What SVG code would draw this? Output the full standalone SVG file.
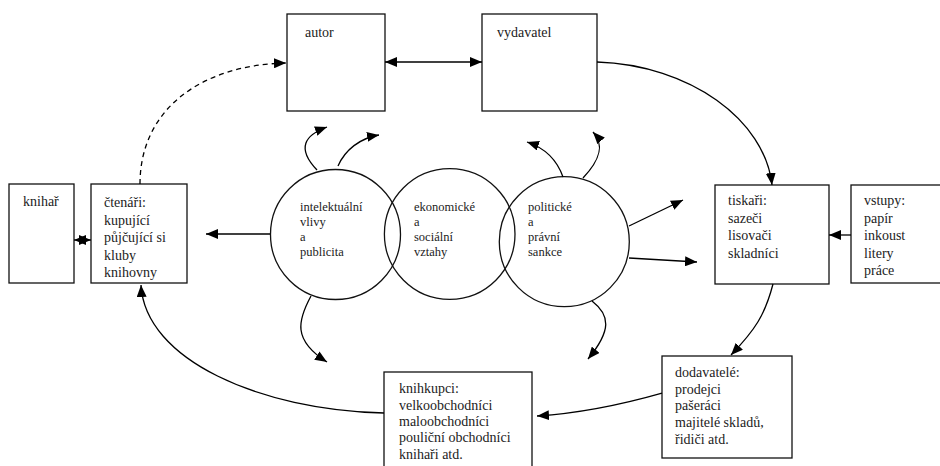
<svg xmlns="http://www.w3.org/2000/svg" width="940" height="466" viewBox="0 0 940 466">
<style>
.box{fill:#fff;stroke:#111;stroke-width:1.3}
.circ{fill:none;stroke:#111;stroke-width:1.3}
.t{font-family:"Liberation Serif","Times New Roman",serif;font-size:14px;fill:#222}
.tc{font-family:"Liberation Serif","Times New Roman",serif;font-size:12.5px;fill:#222}
.c{fill:none;stroke:#000;stroke-width:1.3;marker-end:url(#ah)}
.d{marker-start:url(#ah)}
.dash{stroke-dasharray:5,4}
</style>
<defs>
<marker id="ah" markerUnits="userSpaceOnUse" markerWidth="12" markerHeight="10" refX="12" refY="5" orient="auto-start-reverse">
<path d="M0,0 L12,5 L0,10 z" fill="#000"/>
</marker>
</defs>
<rect width="940" height="466" fill="#fff"/>
<g id="knihar"><rect class="box" x="9" y="184" width="65" height="99"/><text class="t" x="23" y="206">knihař</text></g>
<g id="ctenari"><rect class="box" x="91" y="184" width="96" height="99"/><text class="t" x="104" y="207">čtenáři:</text><text class="t" x="104" y="224.5">kupující</text><text class="t" x="104" y="242">půjčující si</text><text class="t" x="104" y="259.5">kluby</text><text class="t" x="104" y="277">knihovny</text></g>
<g id="autor"><rect class="box" x="287" y="14" width="98" height="97"/><text class="t" x="305" y="37">autor</text></g>
<g id="vydavatel"><rect class="box" x="482" y="14" width="115" height="97"/><text class="t" x="497" y="37">vydavatel</text></g>
<g id="tiskari"><rect class="box" x="715" y="185" width="114" height="99"/><text class="t" x="728" y="205">tiskaři:</text><text class="t" x="728" y="222.5">sazeči</text><text class="t" x="728" y="240">lisovači</text><text class="t" x="728" y="257.5">skladníci</text></g>
<g id="vstupy"><rect class="box" x="851" y="185" width="100" height="98"/><text class="t" x="864" y="205">vstupy:</text><text class="t" x="864" y="222.5">papír</text><text class="t" x="864" y="240">inkoust</text><text class="t" x="864" y="257.5">litery</text><text class="t" x="864" y="275">práce</text></g>
<g id="dodavatele"><rect class="box" x="662" y="356" width="130" height="102"/><text class="t" x="675" y="377">dodavatelé:</text><text class="t" x="675" y="393.5">prodejci</text><text class="t" x="675" y="410">pašeráci</text><text class="t" x="675" y="427">majitelé skladů,</text><text class="t" x="675" y="444">řidiči atd.</text></g>
<g id="knihkupci"><rect class="box" x="384" y="372" width="148" height="110"/><text class="t" x="399" y="393">knihkupci:</text><text class="t" x="399" y="409.5">velkoobchodníci</text><text class="t" x="399" y="425.5">maloobchodníci</text><text class="t" x="399" y="442">pouliční obchodníci</text><text class="t" x="399" y="458.5">knihaři atd.</text></g>
<g id="intelektualni"><circle class="circ" cx="335.5" cy="234.5" r="65"/><text class="tc" x="300" y="211">intelektuální</text><text class="tc" x="300" y="226">vlivy</text><text class="tc" x="300" y="241">a</text><text class="tc" x="300" y="256">publicita</text></g>
<g id="ekonomicke"><circle class="circ" cx="449.7" cy="234" r="65.3"/><text class="tc" x="414" y="211">ekonomické</text><text class="tc" x="414" y="226">a</text><text class="tc" x="414" y="241">sociální</text><text class="tc" x="414" y="256">vztahy</text></g>
<g id="politicke"><circle class="circ" cx="564.3" cy="241.7" r="65"/><text class="tc" x="528" y="211">politické</text><text class="tc" x="528" y="226">a</text><text class="tc" x="528" y="241">právní</text><text class="tc" x="528" y="256">sankce</text></g>
<g id="connectors">
<path class="c d" d="M74,240 L91,240"/>
<path class="c" d="M270,234 L206,234"/>
<path class="c dash" d="M140,184 C140,110 200,65 286,63"/>
<path class="c d" d="M385,62 L482,62"/>
<path class="c" d="M597,62 C690,65 765,120 772,185"/>
<path class="c" d="M851,235 L829,235"/>
<path class="c" d="M773,284 C765,315 755,330 731,355"/>
<path class="c" d="M662,393 C620,405 580,413 537,416"/>
<path class="c" d="M384,413 C260,410 145,360 141,285"/>
<path class="c" d="M317,170 C296,148 305,135 327,127"/>
<path class="c" d="M338,166 C345,150 360,138 379,135"/>
<path class="c" d="M563,177 C557,160 545,148 527,142"/>
<path class="c" d="M583,178 C600,160 605,145 593,132"/>
<path class="c" d="M629,226 L683,200"/>
<path class="c" d="M629,258 L697,262"/>
<path class="c" d="M311,296 C298,320 292,340 327,362"/>
<path class="c" d="M592,301 C610,315 612,330 588,359"/>
</g>
</svg>
